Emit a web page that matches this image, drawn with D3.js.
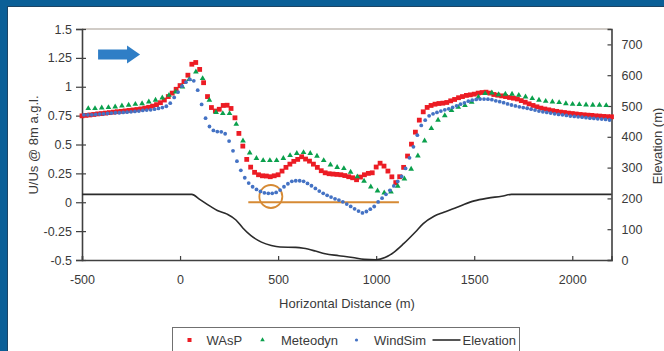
<!DOCTYPE html>
<html>
<head>
<meta charset="utf-8">
<script src="https://cdn.jsdelivr.net/npm/d3@7"></script>
<style>
  html, body { margin: 0; padding: 0; background: #0b5f97; }
  svg { display: block; font-family: "Liberation Sans", Arial, sans-serif; }
</style>
</head>
<body>
<svg id="chart" width="664" height="351"></svg>
<script>
// ---------------  DATA  ---------------
// WAsP, every 20 m from -500 to 2200
const waspStart = -500, waspStep = 20;
const wasp = [
  .748,.752,.756,.760,.765,.768,.772,.776,.780,.784,
  .787,.791,.795,.799,.803,.808,.815,.822,.832,.845,
  .862,.885,.915,.945,.978,1.010,1.045,1.100,1.195,1.210,
  1.150,1.035,.915,.820,.790,.805,.838,.840,.812,.731,
  .596,.486,.371,.304,.259,.238,.229,.227,.221,.229,
  .238,.270,.302,.330,.354,.371,.394,.374,.356,.330,
  .302,.273,.255,.247,.244,.241,.238,.231,.221,.212,
  .195,.218,.238,.250,.255,.305,.338,.313,.270,.220,
  .170,.221,.302,.400,.503,.607,.711,.783,.821,.838,
  .849,.855,.858,.864,.878,.890,.905,.915,.925,.930,
  .936,.945,.950,.953,.945,.933,.927,.921,.915,.907,
  .901,.894,.880,.866,.852,.838,.826,.815,.807,.800,
  .793,.787,.781,.777,.772,.768,.764,.760,.757,.754,
  .752,.748,.746,.743,.741,.740
];

// Meteodyn, every ~34 m from -468
const meteoStart = -468, meteoStep = 34.3;
const meteodyn = [
  .812,.812,.818,.821,.826,.835,.841,.849,.855,.870,
  .884,.904,.927,.956,.999,1.063,1.129,1.072,.884,.778,
  .769,.769,.676,.532,.428,.380,.362,.362,.362,.380,
  .405,.423,.431,.423,.400,.362,.324,.302,.293,.261,
  .221,.183,.134,.099,.081,.090,.140,.203,.287,.402,
  .532,.639,.711,.750,.795,.823,.838,.866,.910,.942,
  .947,.933,.936,.936,.927,.913,.899,.884,.875,.870,
  .864,.855,.849,.847,.843,.841,.841,.838
];

// WindSim, every 20 m from -490
const windStart = -490, windStep = 20;
const windsim = [
  .757,.757,.757,.760,.763,.766,.769,.772,.775,.775,
  .778,.780,.783,.786,.789,.795,.798,.800,.806,.812,
  .820,.831,.858,.908,.954,1.005,1.040,1.063,1.051,.970,
  .847,.728,.656,.622,.612,.610,.593,.530,.445,.356,
  .276,.212,.166,.134,.111,.094,.082,.077,.077,.085,
  .105,.134,.160,.181,.186,.186,.181,.163,.143,.120,
  .097,.077,.060,.045,.030,.019,.004,-.016,-.036,-.057,
  -.076,-.092,-.080,-.060,-.037,.003,.035,.069,.103,.141,
  .180,.223,.293,.385,.480,.581,.665,.711,.748,.766,
  .778,.789,.800,.809,.821,.835,.849,.861,.875,.884,
  .890,.893,.893,.892,.888,.878,.871,.862,.851,.842,
  .834,.826,.820,.814,.806,.798,.789,.783,.778,.772,
  .766,.760,.757,.752,.746,.743,.740,.737,.732,.728,
  .726,.722,.720,.717,.712
];

// Elevation profile (secondary axis)
const elevDist = [-500, 60, 100, 155, 190, 240, 285, 320, 360, 415, 465, 510, 590, 630, 690, 740, 810, 880, 940, 1000,
  1045, 1090, 1140, 1200, 1240, 1295, 1345, 1400, 1450, 1500, 1570, 1640, 1690, 2200];
const elevHeight = [213, 213, 197, 174, 161, 149, 130, 104, 80, 58, 47, 42, 41, 38, 29, 20, 14, 8, 2, 1,
  8, 25, 53, 91, 118, 142, 155, 168, 181, 192, 201, 207, 213, 213];

const xTicks = [-500, 0, 500, 1000, 1500, 2000];
const yTicks = [-0.5, -0.25, 0, 0.25, 0.5, 0.75, 1, 1.25, 1.5];
const y2Ticks = [0, 100, 200, 300, 400, 500, 600, 700];

// annotation: orange reference line at U/Us = 0 and circle
const refLine = [348, 1116];
const refCircle = [463, 0.05];
const windArrow = [-418, -204, 1.28];

const seriesNames = ["WAsP", "Meteodyn", "WindSim", "Elevation"];

// ---------------  SETUP  ---------------
const svg = d3.select("#chart");
const colRed = "#ec1c24", colGreen = "#0aa04c", colBlue = "#4472c4", colElev = "#2b2b2b";
const colOrange = "#d68a34", colText = "#3a3a3a", colAxis = "#404040";

const x = d3.scaleLinear().domain([-500, 2200]).range([82, 611.5]);
const y = d3.scaleLinear().domain([-0.5, 1.5]).range([260, 29]);
const y2 = d3.scaleLinear().domain([0, 750]).range([260, 29]);

// white panel inside the blue frame
svg.append("rect").attr("x", 7.5).attr("y", 6.5).attr("width", 660).attr("height", 350)
  .attr("fill", "#ffffff").attr("stroke", "#1d4464").attr("stroke-width", 1);

// top border of plot area
svg.append("line").attr("x1", 82).attr("x2", 611.5).attr("y1", 29).attr("y2", 29)
  .attr("stroke", "#c2bbb4").attr("stroke-width", 1.5);

// ---------------  AXES  ---------------
const fmt = d => String(d);

const gx = svg.append("g").attr("transform", "translate(0,260)")
  .call(d3.axisBottom(x).tickValues(xTicks).tickFormat(fmt).tickSize(-4).tickPadding(15));
const gy = svg.append("g").attr("transform", "translate(82,0)")
  .call(d3.axisLeft(y).tickValues(yTicks).tickFormat(fmt).tickSize(6).tickPadding(4));
gy.selectAll(".tick line").attr("x1", 4);
const gy2 = svg.append("g").attr("transform", "translate(611.5,0)")
  .call(d3.axisRight(y2).tickValues(y2Ticks).tickFormat(fmt).tickSize(-4).tickPadding(10));

[gx, gy, gy2].forEach(g => {
  g.select(".domain").attr("stroke", colAxis).attr("stroke-width", 1.6);
  g.selectAll(".tick line").attr("stroke", colAxis).attr("stroke-width", 1.2);
  g.selectAll(".tick text").attr("fill", colText).attr("font-size", 12.5)
    .attr("font-family", "Liberation Sans, Arial, sans-serif");
});

// axis titles
svg.append("text").attr("x", 347).attr("y", 303).attr("text-anchor", "middle")
  .attr("dominant-baseline", "central").attr("font-size", 13).attr("fill", colText)
  .text("Horizontal Distance (m)");
svg.append("text").attr("transform", "translate(33.5,145) rotate(-90)").attr("text-anchor", "middle")
  .attr("dominant-baseline", "central").attr("font-size", 13).attr("fill", colText)
  .text("U/Us @ 8m a.g.l.");
svg.append("text").attr("transform", "translate(657,146) rotate(-90)").attr("text-anchor", "middle")
  .attr("dominant-baseline", "central").attr("font-size", 13).attr("fill", colText)
  .text("Elevation (m)");

// ---------------  ANNOTATIONS  ---------------
svg.append("line").attr("x1", x(refLine[0])).attr("x2", x(refLine[1]))
  .attr("y1", y(0)).attr("y2", y(0)).attr("stroke", colOrange).attr("stroke-width", 2);
svg.append("circle").attr("cx", x(refCircle[0])).attr("cy", y(refCircle[1])).attr("r", 11.5)
  .attr("fill", "none").attr("stroke", colOrange).attr("stroke-width", 1.8);

// ---------------  SERIES  ---------------
const elevData = elevDist.map((d, i) => [d, elevHeight[i]]);
svg.append("path").datum(elevData)
  .attr("d", d3.line().x(d => x(d[0])).y(d => y2(d[1])).curve(d3.curveMonotoneX))
  .attr("fill", "none").attr("stroke", colElev).attr("stroke-width", 1.6);

const waspData = wasp.map((v, i) => [waspStart + i * waspStep, v]);
const meteoData = meteodyn.map((v, i) => [meteoStart + i * meteoStep, v]);
const windData = windsim.map((v, i) => [windStart + i * windStep, v]);

const sq = 4.8;
svg.append("g").selectAll("rect").data(waspData).enter().append("rect")
  .attr("x", d => x(d[0]) - sq / 2).attr("y", d => y(d[1]) - sq / 2)
  .attr("width", sq).attr("height", sq).attr("fill", colRed);

const tri = d3.symbol(d3.symbolTriangle, 14);
svg.append("g").selectAll("path").data(meteoData).enter().append("path")
  .attr("d", tri).attr("transform", d => "translate(" + x(d[0]) + "," + y(d[1]) + ")")
  .attr("fill", colGreen);

svg.append("g").selectAll("circle").data(windData).enter().append("circle")
  .attr("cx", d => x(d[0])).attr("cy", d => y(d[1])).attr("r", 1.9).attr("fill", colBlue);

// ---------------  ARROW  ---------------
const ax0 = x(windArrow[0]), ax1 = x(windArrow[1]), ay = y(windArrow[2]);
const headLen = 13, bodyH = 5, headH = 9;
svg.append("path")
  .attr("d", d3.line()([
    [ax0, ay - bodyH], [ax1 - headLen, ay - bodyH], [ax1 - headLen, ay - headH], [ax1, ay],
    [ax1 - headLen, ay + headH], [ax1 - headLen, ay + bodyH], [ax0, ay + bodyH]
  ]) + "Z")
  .attr("fill", "#2f7ec6");

// ---------------  LEGEND  ---------------
const leg = svg.append("g");
leg.append("rect").attr("x", 172.5).attr("y", 327.5).attr("width", 347).attr("height", 30)
  .attr("fill", "#ffffff").attr("stroke", "#707070").attr("stroke-width", 1);
const legY = 340;
const legItems = [
  {mx: 189.5, tx: 206.5},
  {mx: 262.5, tx: 281},
  {mx: 356.5, tx: 374},
  {mx: 446.5, tx: 462.5}
];
leg.append("rect").attr("x", legItems[0].mx - 2).attr("y", legY - 2).attr("width", 4).attr("height", 4).attr("fill", colRed);
leg.append("path").attr("d", d3.symbol(d3.symbolTriangle, 9)).attr("transform", "translate(" + legItems[1].mx + "," + legY + ")").attr("fill", colGreen);
leg.append("circle").attr("cx", legItems[2].mx).attr("cy", legY).attr("r", 1.6).attr("fill", colBlue);
leg.append("line").attr("x1", legItems[3].mx - 14).attr("x2", legItems[3].mx + 14).attr("y1", legY).attr("y2", legY)
  .attr("stroke", colElev).attr("stroke-width", 1.6);
leg.selectAll("text").data(seriesNames).enter().append("text")
  .attr("x", (d, i) => legItems[i].tx).attr("y", legY).attr("dominant-baseline", "central")
  .attr("font-size", 13).attr("fill", colText).text(d => d);
</script>
</body>
</html>
